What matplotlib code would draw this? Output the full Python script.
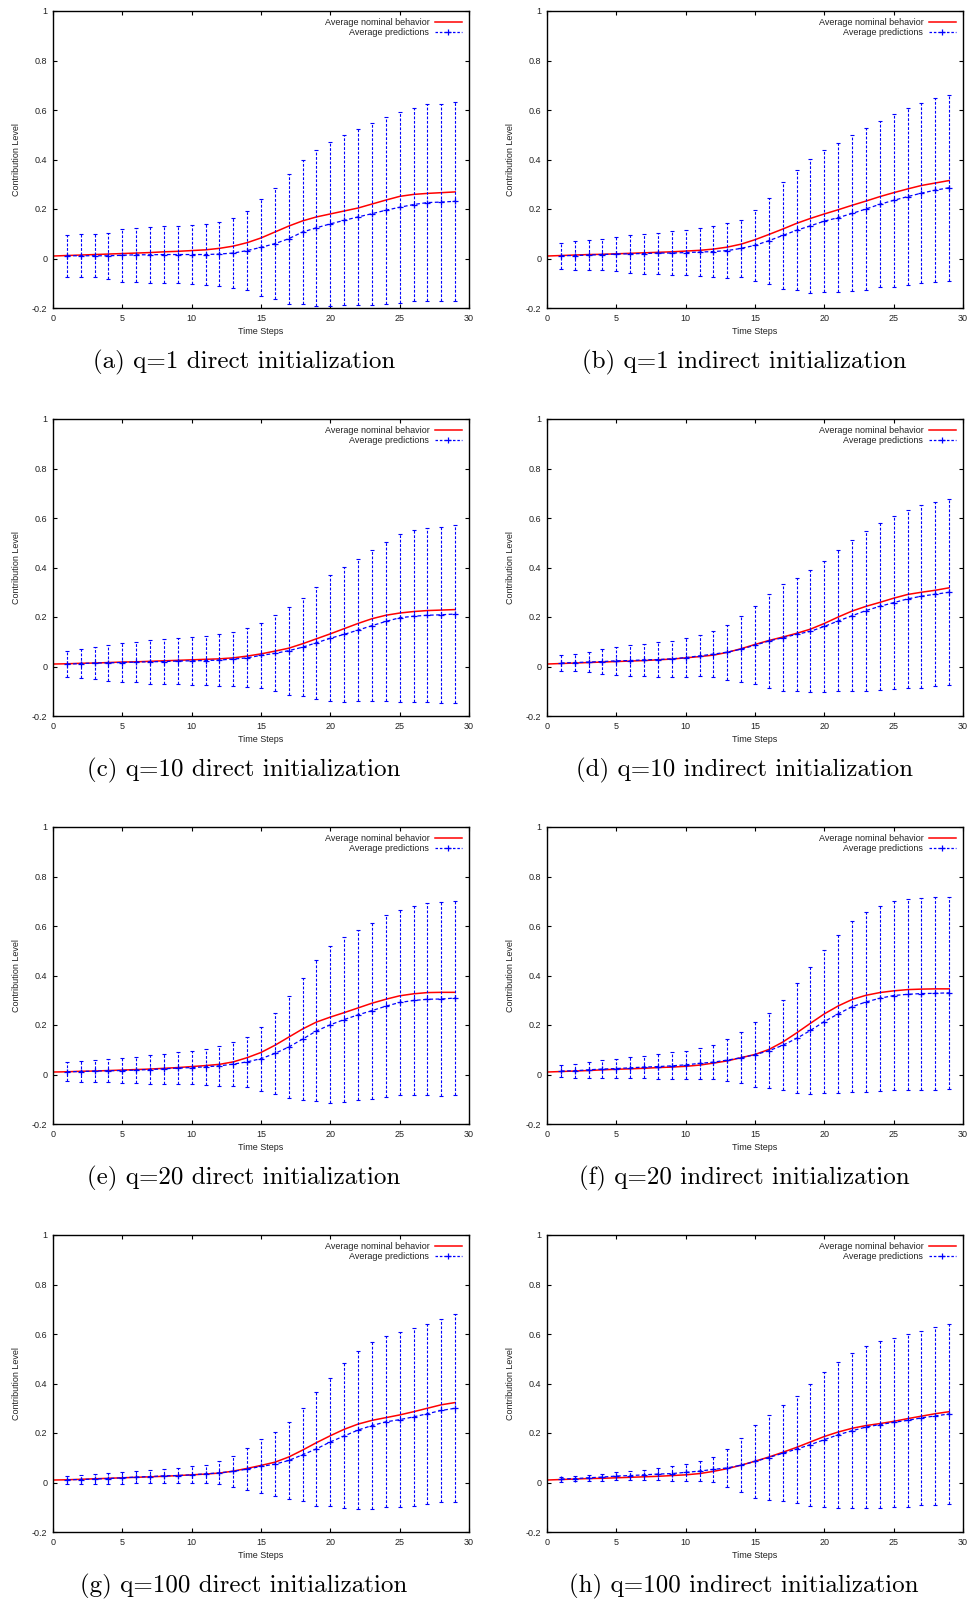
import numpy as np
import matplotlib
matplotlib.use("Agg")
import matplotlib.pyplot as plt
from matplotlib.lines import Line2D

plt.rcParams['font.family'] = ['Liberation Sans', 'DejaVu Sans']

steps = np.arange(1, 30)
nominal_steps = np.arange(0, 30)

captions = [
    "(a) q=1 direct initialization",
    "(b) q=1 indirect initialization",
    "(c) q=10 direct initialization",
    "(d) q=10 indirect initialization",
    "(e) q=20 direct initialization",
    "(f) q=20 indirect initialization",
    "(g) q=100 direct initialization",
    "(h) q=100 indirect initialization",
]

# average nominal behavior, t = 0..29
nominal_a = [0.010, 0.012, 0.014, 0.016, 0.018, 0.020, 0.022, 0.024, 0.027, 0.029,
             0.032, 0.035, 0.041, 0.050, 0.064, 0.083, 0.107, 0.131, 0.152, 0.168,
             0.180, 0.192, 0.204, 0.220, 0.236, 0.251, 0.259, 0.263, 0.266, 0.269]
nominal_b = [0.010, 0.012, 0.014, 0.016, 0.017, 0.019, 0.021, 0.023, 0.025, 0.027,
             0.030, 0.033, 0.038, 0.046, 0.058, 0.076, 0.097, 0.119, 0.142, 0.162,
             0.180, 0.197, 0.215, 0.232, 0.250, 0.266, 0.281, 0.295, 0.305, 0.315]
nominal_c = [0.010, 0.011, 0.013, 0.014, 0.016, 0.018, 0.019, 0.021, 0.023, 0.025,
             0.027, 0.029, 0.031, 0.035, 0.042, 0.051, 0.062, 0.074, 0.092, 0.112,
             0.132, 0.153, 0.174, 0.193, 0.207, 0.216, 0.222, 0.226, 0.228, 0.230]
nominal_d = [0.010, 0.012, 0.014, 0.016, 0.018, 0.020, 0.022, 0.024, 0.027, 0.030,
             0.035, 0.040, 0.046, 0.057, 0.072, 0.089, 0.105, 0.119, 0.134, 0.151,
             0.174, 0.200, 0.224, 0.243, 0.259, 0.276, 0.291, 0.300, 0.308, 0.318]
nominal_e = [0.010, 0.011, 0.013, 0.014, 0.016, 0.018, 0.020, 0.022, 0.025, 0.028,
             0.032, 0.036, 0.041, 0.051, 0.068, 0.089, 0.118, 0.151, 0.184, 0.212,
             0.232, 0.250, 0.269, 0.288, 0.304, 0.318, 0.326, 0.331, 0.332, 0.332]
nominal_f = [0.010, 0.012, 0.014, 0.016, 0.019, 0.021, 0.023, 0.025, 0.028, 0.030,
             0.033, 0.038, 0.046, 0.055, 0.068, 0.081, 0.101, 0.131, 0.168, 0.207,
             0.245, 0.277, 0.303, 0.320, 0.331, 0.338, 0.343, 0.345, 0.346, 0.346]
nominal_g = [0.010, 0.011, 0.013, 0.015, 0.017, 0.019, 0.021, 0.023, 0.025, 0.028,
             0.031, 0.034, 0.038, 0.046, 0.057, 0.069, 0.082, 0.103, 0.131, 0.161,
             0.189, 0.215, 0.236, 0.251, 0.262, 0.273, 0.286, 0.300, 0.314, 0.323]
nominal_h = [0.010, 0.012, 0.014, 0.016, 0.017, 0.019, 0.021, 0.023, 0.025, 0.028,
             0.031, 0.036, 0.045, 0.056, 0.070, 0.086, 0.103, 0.122, 0.142, 0.164,
             0.186, 0.204, 0.219, 0.230, 0.238, 0.247, 0.258, 0.268, 0.278, 0.286]

# average predictions, t = 1..29
pred_a = [0.011, 0.011, 0.011, 0.011, 0.013, 0.015, 0.015, 0.016, 0.016, 0.016,
          0.016, 0.018, 0.022, 0.032, 0.045, 0.060, 0.080, 0.107, 0.124, 0.140,
          0.154, 0.168, 0.181, 0.195, 0.207, 0.218, 0.226, 0.228, 0.231]
pred_b = [0.011, 0.012, 0.014, 0.016, 0.018, 0.019, 0.020, 0.022, 0.022, 0.024,
          0.026, 0.028, 0.032, 0.041, 0.053, 0.072, 0.093, 0.114, 0.132, 0.151,
          0.165, 0.182, 0.200, 0.219, 0.235, 0.250, 0.264, 0.276, 0.286]
pred_c = [0.009, 0.012, 0.014, 0.015, 0.016, 0.018, 0.019, 0.020, 0.022, 0.023,
          0.024, 0.026, 0.030, 0.035, 0.045, 0.053, 0.064, 0.078, 0.096, 0.114,
          0.130, 0.147, 0.165, 0.182, 0.197, 0.203, 0.207, 0.209, 0.212]
pred_d = [0.014, 0.016, 0.018, 0.020, 0.023, 0.024, 0.027, 0.028, 0.031, 0.036,
          0.043, 0.050, 0.058, 0.070, 0.086, 0.103, 0.116, 0.130, 0.142, 0.162,
          0.184, 0.205, 0.226, 0.243, 0.258, 0.273, 0.284, 0.292, 0.300]
pred_e = [0.011, 0.012, 0.014, 0.015, 0.016, 0.018, 0.020, 0.023, 0.026, 0.028,
          0.031, 0.035, 0.042, 0.051, 0.064, 0.085, 0.111, 0.143, 0.176, 0.201,
          0.222, 0.241, 0.258, 0.276, 0.291, 0.299, 0.304, 0.305, 0.309]
pred_f = [0.014, 0.015, 0.019, 0.022, 0.024, 0.027, 0.030, 0.032, 0.035, 0.039,
          0.045, 0.050, 0.058, 0.068, 0.080, 0.096, 0.118, 0.146, 0.178, 0.214,
          0.245, 0.274, 0.293, 0.308, 0.319, 0.324, 0.327, 0.328, 0.330]
pred_g = [0.011, 0.012, 0.014, 0.016, 0.019, 0.022, 0.024, 0.027, 0.028, 0.031,
          0.035, 0.039, 0.045, 0.054, 0.065, 0.074, 0.089, 0.112, 0.136, 0.164,
          0.188, 0.212, 0.230, 0.245, 0.254, 0.265, 0.278, 0.291, 0.300]
pred_h = [0.014, 0.016, 0.019, 0.022, 0.026, 0.028, 0.031, 0.034, 0.036, 0.041,
          0.046, 0.053, 0.059, 0.070, 0.085, 0.101, 0.118, 0.135, 0.153, 0.173,
          0.193, 0.209, 0.224, 0.234, 0.243, 0.251, 0.261, 0.269, 0.277]

# error bar half widths, t = 1..29
err_a = [0.084, 0.086, 0.086, 0.092, 0.106, 0.108, 0.112, 0.115, 0.115, 0.118,
         0.123, 0.129, 0.140, 0.161, 0.197, 0.225, 0.262, 0.292, 0.314, 0.332,
         0.343, 0.356, 0.368, 0.378, 0.385, 0.391, 0.397, 0.398, 0.401]
err_b = [0.053, 0.057, 0.059, 0.064, 0.070, 0.076, 0.081, 0.083, 0.089, 0.091,
         0.096, 0.102, 0.110, 0.116, 0.142, 0.174, 0.216, 0.243, 0.272, 0.288,
         0.301, 0.315, 0.327, 0.335, 0.349, 0.358, 0.363, 0.371, 0.376]
err_c = [0.053, 0.057, 0.066, 0.073, 0.077, 0.082, 0.088, 0.092, 0.094, 0.096,
         0.100, 0.105, 0.109, 0.119, 0.131, 0.154, 0.178, 0.198, 0.226, 0.254,
         0.274, 0.288, 0.304, 0.323, 0.339, 0.347, 0.352, 0.356, 0.358]
err_d = [0.032, 0.035, 0.041, 0.050, 0.057, 0.064, 0.065, 0.072, 0.074, 0.078,
         0.083, 0.092, 0.111, 0.133, 0.157, 0.188, 0.216, 0.229, 0.247, 0.266,
         0.285, 0.306, 0.323, 0.338, 0.349, 0.358, 0.370, 0.372, 0.376]
err_e = [0.039, 0.042, 0.043, 0.047, 0.049, 0.054, 0.057, 0.061, 0.065, 0.068,
         0.074, 0.081, 0.089, 0.100, 0.129, 0.165, 0.207, 0.246, 0.285, 0.317,
         0.335, 0.343, 0.356, 0.367, 0.374, 0.381, 0.388, 0.392, 0.390]
err_f = [0.025, 0.028, 0.032, 0.035, 0.038, 0.043, 0.046, 0.050, 0.054, 0.057,
         0.062, 0.070, 0.085, 0.104, 0.131, 0.151, 0.181, 0.222, 0.257, 0.289,
         0.320, 0.346, 0.365, 0.374, 0.380, 0.385, 0.388, 0.390, 0.389]
err_g = [0.016, 0.018, 0.021, 0.023, 0.024, 0.025, 0.026, 0.027, 0.031, 0.034,
         0.037, 0.047, 0.063, 0.085, 0.109, 0.130, 0.154, 0.187, 0.229, 0.260,
         0.293, 0.318, 0.336, 0.346, 0.353, 0.359, 0.364, 0.371, 0.380]
err_h = [0.010, 0.011, 0.013, 0.014, 0.017, 0.019, 0.020, 0.025, 0.029, 0.033,
         0.040, 0.051, 0.077, 0.110, 0.146, 0.173, 0.194, 0.216, 0.246, 0.272,
         0.295, 0.313, 0.326, 0.338, 0.342, 0.348, 0.351, 0.361, 0.365]

nominals = [nominal_a, nominal_b, nominal_c, nominal_d, nominal_e, nominal_f, nominal_g, nominal_h]
preds = [pred_a, pred_b, pred_c, pred_d, pred_e, pred_f, pred_g, pred_h]
errs = [err_a, err_b, err_c, err_d, err_e, err_f, err_g, err_h]

W, H = 971, 1603
fig = plt.figure(figsize=(W / 100, H / 100), dpi=100)

col_left = [53, 547]
row_top = [11, 419, 827, 1235]
ax_w, ax_h = 416, 297
cap_y = [362, 770, 1178, 1586]
cap_x = [244, 744]

txt_color = '#222222'

# size the captions so "(a) ..." is about 301 px wide, as in the reference
renderer = fig.canvas.get_renderer()
probe = fig.text(0, 0, captions[0], fontsize=10, family='cmr10')
probe_w = probe.get_window_extent(renderer).width
probe.remove()
cap_size = 10 * 301 / probe_w

for i in range(8):
    r, c = divmod(i, 2)
    ax = fig.add_axes([col_left[c] / W, 1 - (row_top[r] + ax_h) / H, ax_w / W, ax_h / H])

    ax.plot(nominal_steps, nominals[i], color='#ff0000', lw=1.1)

    eb = ax.errorbar(steps, preds[i], yerr=errs[i], fmt='none', ecolor='#0000ff',
                     elinewidth=0.8, capsize=1.3, capthick=0.8)
    eb[2][0].set_linestyle((0, (2.5, 1.5)))
    ax.plot(steps, preds[i], color='#0000ff', lw=0.9, dashes=(3, 2),
            marker='+', ms=4, mew=0.9)

    ax.set_xlim(0, 30)
    ax.set_ylim(-0.2, 1)
    ax.set_xticks([0, 5, 10, 15, 20, 25, 30])
    ax.set_yticks([-0.2, 0, 0.2, 0.4, 0.6, 0.8, 1])
    ax.set_yticklabels(['-0.2', '0', '0.2', '0.4', '0.6', '0.8', '1'])
    ax.tick_params(direction='in', length=3, width=0.8, top=True, right=True,
                   labelsize=6.5, labelcolor=txt_color, pad=4)
    for s in ax.spines.values():
        s.set_linewidth(1.0)
    ax.set_xlabel('Time Steps', fontsize=6.5, color=txt_color, labelpad=3)
    ax.set_ylabel('Contribution Level', fontsize=6.5, color=txt_color, labelpad=8)

    handles = [
        Line2D([], [], color='#ff0000', lw=1.1),
        Line2D([], [], color='#0000ff', lw=0.9, dashes=(2, 1.5), marker='+', ms=4, mew=0.9),
    ]
    ax.legend(handles, ['Average nominal behavior', 'Average predictions'],
              loc='upper right', frameon=False, markerfirst=False, fontsize=6.5,
              handlelength=3.0, handletextpad=0.6, labelspacing=0.1,
              borderaxespad=0.4, numpoints=1, labelcolor=txt_color)

    fig.text(cap_x[c] / W, 1 - cap_y[r] / H, captions[i], ha='center', va='center',
             fontsize=cap_size, family='cmr10')

fig.savefig('out.png', dpi=100)
